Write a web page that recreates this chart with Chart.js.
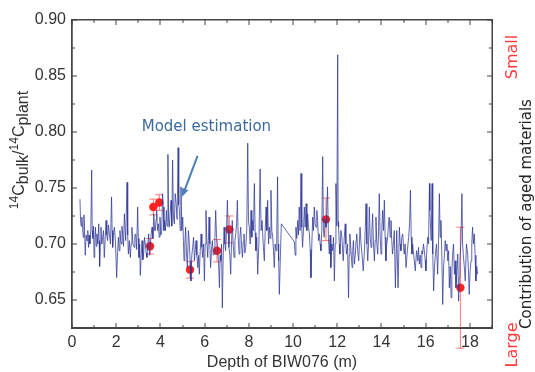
<!DOCTYPE html>
<html>
<head>
<meta charset="utf-8">
<script src="https://cdn.jsdelivr.net/npm/chart.js@4/dist/chart.umd.min.js"></script>
<style>
body { margin: 0; background: #fff; }
#wrap { width: 535px; height: 372px; position: relative; }
</style>
</head>
<body>
<div id="wrap"><canvas id="c"></canvas></div>
<script>
// model estimation: depth (m) and 14C bulk/plant ratio
var depth = [0.36,0.385,0.41,0.445,0.48,0.51,0.54,0.57,0.60,0.64,
  0.68,0.715,0.75,0.78,0.81,0.85,0.89,0.915,0.94,0.97,
  1.00,1.03,1.06,1.095,1.13,1.17,1.21,1.23,1.25,1.28,
  1.31,1.35,1.39,1.425,1.46,1.50,1.54,1.575,1.61,1.65,
  1.69,1.74,1.79,1.815,1.84,1.88,1.92,1.97,2.02,2.06,
  2.10,2.135,2.17,2.20,2.23,2.26,2.29,2.33,2.37,2.43,
  2.49,2.52,2.55,2.595,2.64,2.675,2.71,2.76,2.81,2.845,
  2.88,2.925,2.97,3.00,3.03,3.06,3.09,3.13,3.17,3.205,
  3.24,3.28,3.32,3.355,3.39,3.43,3.47,3.505,3.54,3.58,
  3.62,3.66,3.70,3.735,3.77,3.80,3.83,3.87,3.91,3.945,
  3.98,4.02,4.06,4.095,4.13,4.16,4.19,4.23,4.27,4.30,
  4.34,4.37,4.40,4.44,4.48,4.515,4.55,4.59,4.63,4.67,
  4.71,4.755,4.80,4.83,4.86,4.895,4.93,4.97,5.01,5.04,
  5.07,5.105,5.14,5.18,5.22,5.265,5.31,5.345,5.38,5.42,
  5.46,5.50,5.54,5.575,5.61,5.65,5.69,5.725,5.76,5.80,
  5.84,5.875,5.91,5.95,5.99,6.025,6.06,6.10,6.14,6.17,
  6.20,6.235,6.27,6.31,6.35,6.39,6.43,6.465,6.50,6.54,
  6.58,6.625,6.67,6.70,6.73,6.765,6.80,6.84,6.88,6.915,
  6.95,6.99,7.03,7.065,7.10,7.14,7.18,7.215,7.25,7.29,
  7.33,7.37,7.41,7.445,7.48,7.52,7.56,7.595,7.63,7.67,
  7.71,7.745,7.78,7.82,7.86,7.905,7.95,7.985,8.02,8.06,
  8.10,8.135,8.17,8.21,8.25,8.285,8.32,8.36,8.40,8.455,
  8.51,8.555,8.60,8.65,8.70,8.74,8.78,8.815,8.85,8.89,
  8.93,8.965,9.00,9.04,9.08,9.115,9.15,9.19,9.23,9.265,
  9.30,9.325,9.35,9.38,9.43,9.47,10.06,10.095,10.13,10.17,
  10.21,10.245,10.28,10.32,10.36,10.395,10.43,10.47,10.51,10.55,
  10.59,10.625,10.66,10.70,10.74,10.775,10.81,10.85,10.89,10.925,
  10.96,11.00,11.04,11.075,11.11,11.15,11.19,11.225,11.26,11.30,
  11.34,11.375,11.41,11.45,11.49,11.525,11.56,11.60,11.64,11.675,
  11.71,11.75,11.79,11.83,11.87,11.905,11.94,11.98,12.02,12.04,
  12.06,12.09,12.12,12.165,12.21,12.24,12.27,12.315,12.36,12.39,
  12.42,12.465,12.51,12.54,12.57,12.62,12.67,12.70,12.73,12.775,
  12.82,12.85,12.88,12.925,12.97,13.00,13.03,13.075,13.12,13.175,
  13.23,13.265,13.30,13.34,13.38,13.415,13.45,13.49,13.53,13.565,
  13.60,13.64,13.68,13.715,13.75,13.79,13.83,13.865,13.90,13.94,
  13.98,14.015,14.05,14.09,14.13,14.165,14.20,14.24,14.28,14.315,
  14.35,14.39,14.43,14.465,14.50,14.54,14.58,14.63,14.69,14.75,
  14.81,14.845,14.88,14.92,14.96,15.00,15.03,15.07,15.11,15.17,
  15.23,15.27,15.31,15.345,15.38,15.41,15.44,15.485,15.53,15.585,
  15.64,15.675,15.71,15.75,15.79,15.825,15.86,15.90,15.94,15.975,
  16.01,16.05,16.09,16.13,16.17,16.19,16.21,16.25,16.29,16.32,
  16.36,16.40,16.44,16.49,16.54,16.58,16.62,16.655,16.69,16.73,
  16.77,16.81,16.85,16.885,16.92,16.96,17.00,17.035,17.07,17.11,
  17.15,17.185,17.22,17.26,17.30,17.335,17.37,17.41,17.45,17.49,
  17.52,17.55,17.595,17.64,17.67,17.70,17.745,17.79,17.845,17.90,
  17.935,17.97,18.01,18.05,18.085,18.12,18.16,18.20,18.235,18.27,
  18.31,18.35];
var ratio = [0.740,0.722,0.716,0.724,0.714,0.706,0.726,0.712,0.690,0.708,
  0.703,0.712,0.697,0.708,0.700,0.712,0.766,0.712,0.705,0.716,
  0.688,0.702,0.715,0.698,0.709,0.700,0.718,0.703,0.680,0.700,
  0.715,0.700,0.706,0.712,0.688,0.704,0.721,0.708,0.703,0.717,
  0.709,0.700,0.742,0.712,0.697,0.710,0.715,0.700,0.670,0.692,
  0.706,0.694,0.712,0.703,0.700,0.716,0.709,0.698,0.727,0.703,
  0.755,0.708,0.691,0.703,0.688,0.700,0.715,0.700,0.697,0.708,
  0.709,0.695,0.733,0.705,0.688,0.700,0.672,0.690,0.703,0.686,
  0.691,0.706,0.700,0.692,0.688,0.700,0.709,0.690,0.697,0.708,
  0.715,0.705,0.727,0.712,0.712,0.722,0.730,0.712,0.718,0.706,
  0.724,0.708,0.712,0.745,0.733,0.712,0.721,0.712,0.730,0.716,
  0.780,0.722,0.715,0.728,0.739,0.716,0.775,0.724,0.718,0.745,
  0.736,0.722,0.786,0.735,0.730,0.712,0.751,0.712,0.724,0.703,
  0.685,0.700,0.715,0.692,0.679,0.712,0.700,0.685,0.667,0.690,
  0.697,0.706,0.685,0.694,0.703,0.690,0.679,0.690,0.673,0.694,
  0.709,0.697,0.688,0.700,0.667,0.700,0.730,0.703,0.688,0.703,
  0.724,0.700,0.679,0.694,0.703,0.690,0.691,0.706,0.730,0.706,
  0.697,0.685,0.661,0.690,0.685,0.700,0.643,0.690,0.715,0.700,
  0.694,0.712,0.739,0.712,0.697,0.690,0.673,0.700,0.721,0.700,
  0.688,0.703,0.709,0.718,0.739,0.705,0.691,0.706,0.715,0.700,
  0.688,0.702,0.709,0.692,0.697,0.712,0.790,0.720,0.715,0.700,
  0.730,0.706,0.721,0.712,0.754,0.710,0.694,0.706,0.673,0.700,
  0.767,0.712,0.721,0.700,0.685,0.712,0.733,0.712,0.739,0.700,
  0.715,0.705,0.748,0.712,0.706,0.694,0.679,0.700,0.694,0.712,
  0.760,0.700,0.685,0.655,0.691,0.718,0.702,0.690,0.715,0.705,
  0.721,0.708,0.733,0.712,0.763,0.715,0.697,0.712,0.733,0.715,
  0.736,0.712,0.727,0.715,0.709,0.695,0.670,0.700,0.724,0.712,
  0.733,0.718,0.715,0.730,0.721,0.703,0.709,0.700,0.694,0.712,
  0.778,0.712,0.706,0.722,0.715,0.730,0.751,0.706,0.691,0.708,
  0.679,0.700,0.694,0.706,0.667,0.700,0.754,0.716,0.869,0.720,
  0.715,0.700,0.691,0.712,0.706,0.695,0.685,0.705,0.718,0.700,
  0.691,0.700,0.652,0.690,0.709,0.694,0.679,0.694,0.703,0.682,
  0.691,0.703,0.709,0.694,0.685,0.700,0.715,0.700,0.691,0.676,
  0.694,0.712,0.736,0.700,0.685,0.700,0.733,0.706,0.697,0.712,
  0.727,0.700,0.685,0.703,0.724,0.700,0.691,0.709,0.745,0.706,
  0.691,0.712,0.730,0.712,0.739,0.706,0.685,0.700,0.706,0.718,
  0.724,0.706,0.721,0.703,0.691,0.700,0.712,0.661,0.712,0.661,
  0.715,0.700,0.694,0.706,0.709,0.697,0.691,0.700,0.679,0.694,
  0.706,0.718,0.748,0.706,0.691,0.700,0.694,0.685,0.676,0.694,
  0.685,0.697,0.682,0.690,0.679,0.694,0.691,0.700,0.694,0.686,
  0.676,0.694,0.706,0.700,0.754,0.730,0.721,0.703,0.754,0.691,
  0.658,0.680,0.691,0.700,0.673,0.700,0.745,0.706,0.721,0.690,
  0.646,0.680,0.691,0.703,0.694,0.700,0.685,0.694,0.661,0.680,
  0.652,0.676,0.691,0.700,0.673,0.685,0.661,0.676,0.691,0.649,
  0.670,0.685,0.703,0.745,0.700,0.691,0.680,0.667,0.700,0.691,
  0.676,0.655,0.676,0.685,0.700,0.715,0.700,0.709,0.690,0.667,
  0.680,0.673];

// measured samples with error bars
var sampleDepth = [3.53, 3.68, 3.95, 5.34, 6.56, 7.12, 11.49, 17.57];
var sampleRatio = [0.698, 0.733, 0.737, 0.677, 0.694, 0.713, 0.722, 0.661];
var sampleErr = [0.007, 0.007, 0.007, 0.0075, 0.010, 0.012, 0.019, 0.054];

var xMin = 0, xMax = 19, xStep = 1;
var yMin = 0.625, yMax = 0.90, yStep = 0.025;

var lineColor = 'rgba(45,55,150,0.75)';
var dotColor = '#ff2020';
var errColor = 'rgba(255,95,95,0.85)';
var textColor = '#333';
var sansFont = '"Liberation Sans", Arial, sans-serif';

function isMajorY(v) { return Math.round(v * 1000) % 50 === 0; }
function isMajorX(v) { return Math.round(v) % 2 === 0; }

// error bars under the red dots, then the frame with inward ticks
var errorBars = {
  id: 'errorBars',
  beforeDatasetDraw: function(chart, args) {
    if (args.index !== 1) return;
    var ctx = chart.ctx, xs = chart.scales.x, ys = chart.scales.y;
    ctx.save();
    ctx.strokeStyle = errColor;
    ctx.lineWidth = 1;
    for (var i = 0; i < sampleDepth.length; i++) {
      var px = xs.getPixelForValue(sampleDepth[i]);
      var top = ys.getPixelForValue(sampleRatio[i] + sampleErr[i]);
      var bot = ys.getPixelForValue(sampleRatio[i] - sampleErr[i]);
      ctx.beginPath();
      ctx.moveTo(px, top); ctx.lineTo(px, bot);
      ctx.moveTo(px - 4, top); ctx.lineTo(px + 4, top);
      ctx.moveTo(px - 4, bot); ctx.lineTo(px + 4, bot);
      ctx.stroke();
    }
    ctx.restore();
  },
  afterDatasetDraw: function(chart, args) {
    if (args.index !== 1) return;
    var ctx = chart.ctx, xs = chart.scales.x, ys = chart.scales.y;
    var l = Math.round(xs.getPixelForValue(xMin)), r = Math.round(xs.getPixelForValue(xMax));
    var t = Math.round(ys.getPixelForValue(yMax)), b = Math.round(ys.getPixelForValue(yMin));
    ctx.save();
    ctx.fillStyle = 'rgb(68,68,68)';
    ctx.fillRect(l - 1, t - 1, r - l + 2, 1.5);
    ctx.fillRect(l - 1, b - 0.5, r - l + 2, 1.5);
    ctx.fillRect(l - 1, t - 1, 1.5, b - t + 2);
    ctx.fillRect(r - 0.5, t - 1, 1.5, b - t + 2);
    for (var xv = xMin; xv <= xMax; xv += xStep) {
      var px = Math.round(xs.getPixelForValue(xv));
      var len = isMajorX(xv) ? 5 : 3;
      ctx.fillRect(px - 0.5, b - len, 1, len);
      ctx.fillRect(px - 0.5, t, 1, len);
    }
    for (var k = 0; k <= Math.round((yMax - yMin) / yStep); k++) {
      var yv = yMin + k * yStep;
      var py = Math.round(ys.getPixelForValue(yv));
      var ylen = isMajorY(yv) ? 5 : 3;
      ctx.fillRect(l, py - 0.5, ylen, 1);
      ctx.fillRect(r - ylen, py - 0.5, ylen, 1);
    }
    ctx.restore();
  }
};

// annotation and side labels
var decor = {
  id: 'decor',
  afterDraw: function(chart) {
    var ctx = chart.ctx, xs = chart.scales.x, ys = chart.scales.y;
    ctx.save();
    ctx.fillStyle = '#3d6a9e';
    ctx.font = '15px "DejaVu Sans", sans-serif';
    ctx.textAlign = 'center';
    ctx.textBaseline = 'middle';
    ctx.fillText('Model estimation', xs.getPixelForValue(6.08), ys.getPixelForValue(0.804));
    var x0 = xs.getPixelForValue(5.68), y0 = ys.getPixelForValue(0.7786);
    var x1 = xs.getPixelForValue(4.98), y1 = ys.getPixelForValue(0.7421);
    var ang = Math.atan2(y1 - y0, x1 - x0);
    ctx.strokeStyle = '#4a80b8';
    ctx.lineWidth = 2;
    ctx.beginPath();
    ctx.moveTo(x0, y0); ctx.lineTo(x1 - 3 * Math.cos(ang), y1 - 3 * Math.sin(ang));
    ctx.stroke();
    ctx.fillStyle = '#4a80b8';
    ctx.beginPath();
    ctx.moveTo(x1, y1);
    ctx.lineTo(x1 - 9 * Math.cos(ang - 0.4), y1 - 9 * Math.sin(ang - 0.4));
    ctx.lineTo(x1 - 9 * Math.cos(ang + 0.4), y1 - 9 * Math.sin(ang + 0.4));
    ctx.closePath();
    ctx.fill();

    // y axis title with super/subscripts
    var parts = [['14', 12, -5], ['C', 16, 0], ['bulk', 16, 4], ['/', 16, 0], ['14', 12, -5], ['C', 16, 0], ['plant', 16, 4]];
    ctx.save();
    ctx.translate(20, 150);
    ctx.rotate(-Math.PI / 2);
    ctx.fillStyle = textColor;
    ctx.textAlign = 'left';
    ctx.textBaseline = 'middle';
    var total = 0;
    parts.forEach(function(p) { ctx.font = p[1] + 'px ' + sansFont; total += ctx.measureText(p[0]).width; });
    var cx = -total / 2;
    parts.forEach(function(p) {
      ctx.font = p[1] + 'px ' + sansFont;
      ctx.fillText(p[0], cx, p[2]);
      cx += ctx.measureText(p[0]).width;
    });
    ctx.restore();

    // right side labels
    ctx.save();
    ctx.translate(527, 214);
    ctx.rotate(-Math.PI / 2);
    ctx.fillStyle = '#222';
    ctx.font = '15px "DejaVu Sans", sans-serif';
    ctx.fillText('Contribution of aged materials', 0, 0);
    ctx.restore();
    ctx.fillStyle = '#ff3b3b';
    ctx.font = '16px "DejaVu Sans", sans-serif';
    [['Small', 57], ['Large', 345]].forEach(function(s) {
      ctx.save();
      ctx.translate(513, s[1]);
      ctx.rotate(-Math.PI / 2);
      ctx.fillText(s[0], 0, 0);
      ctx.restore();
    });
    ctx.restore();
  }
};

var model = depth.map(function(d, i) { return { x: d, y: ratio[i] }; });
var samples = sampleDepth.map(function(d, i) { return { x: d, y: sampleRatio[i] }; });

new Chart(document.getElementById('c'), {
  type: 'line',
  data: {
    datasets: [
      { data: model, borderColor: lineColor, borderWidth: 1, pointRadius: 0, tension: 0, fill: false },
      { type: 'scatter', data: samples, backgroundColor: dotColor, borderColor: dotColor, pointRadius: 4.2, borderWidth: 0 }
    ]
  },
  options: {
    responsive: true,
    maintainAspectRatio: false,
    animation: false,
    layout: { padding: { left: 0, right: 43, top: 20, bottom: 0 } },
    plugins: { legend: { display: false }, tooltip: { enabled: false } },
    scales: {
      x: {
        type: 'linear', min: xMin, max: xMax,
        grid: { display: false, drawTicks: false },
        border: { display: true, color: '#444', width: 1.5 },
        ticks: {
          stepSize: xStep, padding: 5, color: textColor, maxRotation: 0, autoSkip: false,
          font: { family: sansFont, size: 16 },
          callback: function(v) { return isMajorX(v) && v < xMax ? String(v) : ''; }
        },
        title: { display: true, text: 'Depth of BIW076 (m)', color: textColor, font: { family: sansFont, size: 16 }, padding: { top: 0, bottom: 0 } },
        afterFit: function(s) { s.height = 44; }
      },
      y: {
        min: yMin, max: yMax,
        grid: { display: false, drawTicks: false },
        border: { display: true, color: '#444', width: 1.5 },
        ticks: {
          stepSize: yStep, padding: 6, color: textColor, autoSkip: false,
          font: { family: sansFont, size: 16 },
          callback: function(v) { return isMajorY(v) ? v.toFixed(2) : ''; }
        },
        afterFit: function(s) { s.width = 72; }
      }
    }
  },
  plugins: [errorBars, decor]
});
</script>
</body>
</html>
